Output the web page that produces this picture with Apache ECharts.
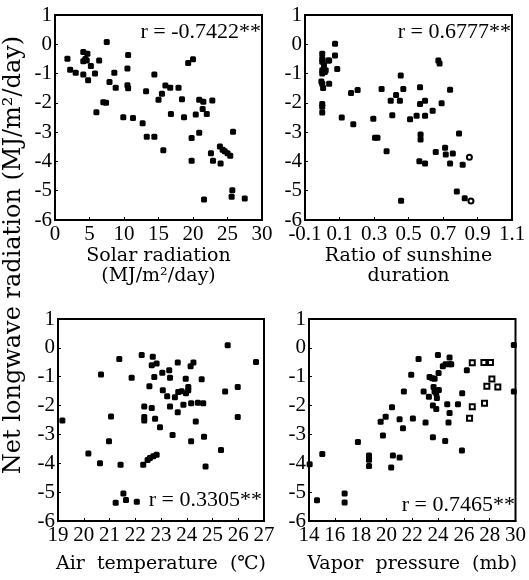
<!DOCTYPE html>
<html><head><meta charset="utf-8">
<script src="https://cdn.jsdelivr.net/npm/echarts@6/dist/echarts.min.js"></script>
<style>html,body{margin:0;padding:0;background:#fff}#c{width:529px;height:580px}</style>
</head><body><div id="c"></div>
<script>
// ---- Data ----
const yTicks = [-6, -5, -4, -3, -2, -1, 0, 1];
const solarTicks = [0, 5, 10, 15, 20, 25, 30];
const sunshineTicks = [-0.1, 0.1, 0.3, 0.5, 0.7, 0.9, 1.1];
const airTicks = [19, 20, 21, 22, 23, 24, 25, 26, 27];
const vaporTicks = [14, 16, 18, 20, 22, 24, 26, 28, 30];

const solarPoints = [[1.8,-0.49],[2.2,-0.87],[3.0,-0.97],[4.1,-1.03],[4.1,-0.58],[4.1,-0.26],[4.7,-0.32],[4.6,-0.55],[4.4,-0.5],[4.8,-1.23],[5.2,-0.74],[5.8,-1.0],[6.4,-0.55],[7.0,-1.98],[7.4,-2.0],[6.0,-2.32],[7.5,0.08],[7.9,-1.29],[8.6,-0.97],[8.8,-1.48],[9.9,-2.49],[10.6,-0.37],[10.5,-0.83],[10.5,-1.4],[10.6,-1.5],[11.3,-2.52],[12.7,-2.7],[13.2,-1.6],[13.3,-3.16],[14.4,-3.16],[14.4,-1.03],[15.0,-1.89],[15.5,-1.69],[15.7,-3.62],[16.0,-1.41],[16.7,-1.48],[16.8,-2.38],[17.9,-1.48],[18.4,-1.88],[18.7,-2.49],[19.3,-0.64],[20.0,-0.51],[19.8,-3.2],[19.8,-3.98],[20.4,-2.4],[20.9,-3.02],[20.9,-1.89],[21.5,-1.96],[21.4,-2.21],[22.0,-2.38],[21.6,-5.3],[22.8,-1.92],[22.6,-3.72],[22.9,-3.98],[23.9,-3.49],[24.0,-4.07],[24.3,-3.6],[24.6,-3.65],[25.0,-3.72],[25.4,-3.81],[25.8,-2.99],[25.7,-4.98],[25.6,-5.21],[27.5,-5.27]];

const sunshinePoints = [[0.0,-0.32],[0.0,-0.49],[0.0,-0.6],[0.01,-0.72],[0.0,-0.89],[0.0,-1.0],[0.015,-0.95],[0.02,-0.89],[0.035,-0.55],[0.04,-0.55],[-0.005,-1.27],[0.0,-1.35],[0.005,-1.49],[0.04,-1.35],[0.0,-2.04],[0.0,-2.13],[0.0,-2.33],[0.074,0.02],[0.074,-0.38],[0.087,-0.84],[0.113,-2.5],[0.167,-1.66],[0.18,-2.73],[0.205,-1.56],[0.296,-2.54],[0.306,-3.19],[0.32,-3.19],[0.344,-1.53],[0.373,-3.65],[0.397,-1.93],[0.406,-2.42],[0.428,-1.73],[0.45,-1.93],[0.455,-1.07],[0.47,-1.53],[0.457,-5.34],[0.509,-2.56],[0.547,-2.44],[0.567,-1.47],[0.567,-2.04],[0.57,-3.08],[0.57,-3.25],[0.563,-3.99],[0.596,-1.93],[0.596,-2.44],[0.596,-4.07],[0.64,-2.27],[0.658,-3.68],[0.673,-0.55],[0.68,-0.66],[0.692,-2.01],[0.712,-3.53],[0.716,-3.76],[0.741,-1.55],[0.741,-4.07],[0.757,-3.73],[0.78,-5.03],[0.793,-3.05],[0.814,-4.11],[0.826,-5.26]];
const sunshineOpenPoints = [[0.853,-3.86],[0.862,-5.35]];

const airPoints = [[19.17,-2.52],[20.18,-3.66],[20.63,-4.0],[20.67,-0.92],[21.38,-0.39],[21.06,-2.38],[20.98,-3.24],[21.43,-4.05],[21.54,-5.05],[21.24,-5.37],[21.64,-5.27],[22.06,-5.33],[21.86,-1.04],[22.25,-0.25],[22.68,-0.31],[22.64,-0.6],[22.83,-0.54],[22.74,-1.01],[23.05,-0.86],[23.32,-0.78],[23.35,-1.04],[23.65,-0.51],[24.15,-0.64],[24.26,-0.51],[23.96,-1.07],[24.58,-1.09],[22.55,-1.33],[23.07,-1.47],[23.24,-1.68],[23.54,-1.71],[23.67,-1.53],[23.8,-1.5],[23.97,-1.57],[24.06,-1.36],[24.06,-1.47],[22.35,-2.03],[22.64,-2.08],[23.35,-2.03],[23.87,-1.97],[24.17,-1.92],[24.43,-1.9],[24.64,-1.92],[22.35,-2.4],[22.35,-2.52],[22.77,-2.46],[22.96,-2.75],[23.65,-2.23],[24.35,-2.55],[23.45,-3.02],[24.17,-3.24],[24.67,-3.08],[25.33,-3.54],[24.73,-4.11],[25.98,-2.4],[25.49,-1.51],[25.98,-1.36],[25.59,0.09],[26.69,-0.49],[22.31,-4.05],[22.48,-3.89],[22.57,-3.82],[22.7,-3.76],[22.83,-3.7]];

const vaporPoints = [[14.05,-4.03],[15.03,-3.68],[14.62,-5.28],[16.76,-5.05],[16.76,-5.36],[17.79,-3.26],[18.65,-3.73],[18.65,-3.88],[18.65,-4.09],[19.55,-2.56],[19.94,-2.39],[19.73,-3.04],[20.43,-2.06],[20.5,-3.73],[20.37,-4.15],[21.02,-3.8],[21.02,-2.47],[21.28,-2.79],[21.35,-1.51],[21.92,-0.93],[22.05,-2.45],[22.49,-0.39],[22.88,-1.51],[23.03,-2.59],[23.29,-1.69],[23.34,-1.01],[23.55,-1.05],[23.73,-1.07],[23.6,-2.0],[23.65,-1.36],[23.73,-1.51],[23.86,-1.57],[23.86,-2.12],[23.91,-1.74],[23.6,-3.1],[23.99,-0.25],[24.06,-1.46],[24.04,-0.87],[24.37,-0.64],[24.58,-0.57],[24.55,-3.23],[24.89,-0.33],[24.89,-0.57],[25.02,-0.57],[24.71,-1.95],[24.81,-2.59],[24.89,-2.26],[25.54,-1.95],[25.85,-3.56],[25.87,-1.57],[26.23,-0.78],[29.87,0.1],[29.87,-1.51]];
const vaporOpenPoints = [[26.65,-0.52],[26.44,-2.44],[26.65,-2.04],[27.6,-1.92],[27.55,-0.51],[28.06,-0.51],[28.17,-1.08],[27.78,-1.33],[28.63,-1.36]];

const xTitles = ['Solar radiation\n(MJ/m²/day)', 'Ratio of sunshine\nduration', 'Air  temperature  (℃)', 'Vapor  pressure  (mb)'];
const rTexts = ['r = -0.7422**', 'r = 0.6777**', 'r = 0.3305**', 'r = 0.7465**'];
const yTitle = 'Net longwave radiation (MJ/m²/day)';

// ---- Chart ----
const SERIF = "'Liberation Serif', 'Noto Sans CJK JP', serif";
const TSERIF = "'DejaVu Serif', 'Noto Sans CJK JP', serif";
const grids = [
  {left: 55, top: 15, width: 207, height: 205},
  {left: 305, top: 15, width: 207, height: 205},
  {left: 58, top: 319, width: 206, height: 202},
  {left: 309, top: 319, width: 207, height: 202}
].map(g => Object.assign({show: true, borderColor: '#000', borderWidth: 2, backgroundColor: 'transparent'}, g));

const xDefs = [
  {min: 0, max: 30, ticks: solarTicks, gap: 26},
  {min: -0.1, max: 1.1, ticks: sunshineTicks, gap: 26},
  {min: 19, max: 27, ticks: airTicks, gap: 33},
  {min: 14, max: 30, ticks: vaporTicks, gap: 33}
];

const fmt = v => {
  const r = Math.round(v * 10) / 10;
  return Number.isInteger(r) ? String(r) : r.toFixed(1);
};

const xAxis = xDefs.map((d, i) => ({
  type: 'value', gridIndex: i, min: d.min, max: d.max,
  name: xTitles[i], nameLocation: 'middle', nameGap: d.gap,
  nameTextStyle: {fontFamily: TSERIF, fontSize: 19, color: '#000', lineHeight: 20},
  axisLine: {show: true, onZero: false, lineStyle: {color: '#000', width: 2}},
  axisTick: {show: true, inside: true, length: 3, customValues: d.ticks, lineStyle: {color: '#000'}},
  axisLabel: {customValues: d.ticks, formatter: fmt, fontFamily: SERIF, fontSize: 21, color: '#000', margin: 4},
  splitLine: {show: false}
}));

const yAxis = grids.map((g, i) => ({
  type: 'value', gridIndex: i, min: -6, max: 1, interval: 1,
  axisLine: {show: true, onZero: false, lineStyle: {color: '#000', width: 2}},
  axisTick: {show: true, inside: true, length: 3, lineStyle: {color: '#000'}},
  axisLabel: {formatter: v => String(v), fontFamily: SERIF, fontSize: 21, color: '#000', margin: 3},
  splitLine: {show: false}
}));

const filled = (i, data) => ({
  type: 'scatter', xAxisIndex: i, yAxisIndex: i, data, symbol: 'roundRect', symbolSize: 6,
  itemStyle: {color: '#000', opacity: 1}, clip: false, silent: true
});
const open = (i, data, sym) => ({
  type: 'scatter', xAxisIndex: i, yAxisIndex: i, data, symbol: sym, symbolSize: 5,
  itemStyle: {color: '#000', borderColor: '#000', borderWidth: 1.2, opacity: 1}, clip: false, silent: true
});

const rPos = [
  {x: 261, y: 32}, {x: 511, y: 32}, {x: 262, y: 500}, {x: 515, y: 505}
];

const graphic = rPos.map((p, i) => ({
  type: 'text', x: p.x, y: p.y, silent: true,
  style: {text: rTexts[i], fontFamily: SERIF, fontSize: 22, fill: '#000', align: 'right', verticalAlign: 'middle'}
}));
graphic.push({
  type: 'text', x: 14, y: 255, rotation: Math.PI / 2, silent: true,
  style: {text: yTitle, fontFamily: TSERIF, fontSize: 24, fill: '#000', align: 'center', verticalAlign: 'middle'}
});

const chart = echarts.init(document.getElementById('c'), null, {renderer: 'canvas'});
chart.setOption({
  animation: false,
  backgroundColor: '#fff',
  grid: grids,
  xAxis, yAxis,
  series: [
    filled(0, solarPoints),
    filled(1, sunshinePoints),
    open(1, sunshineOpenPoints, 'emptyCircle'),
    filled(2, airPoints),
    filled(3, vaporPoints),
    open(3, vaporOpenPoints, 'emptyRect')
  ],
  graphic
});
</script></body></html>
